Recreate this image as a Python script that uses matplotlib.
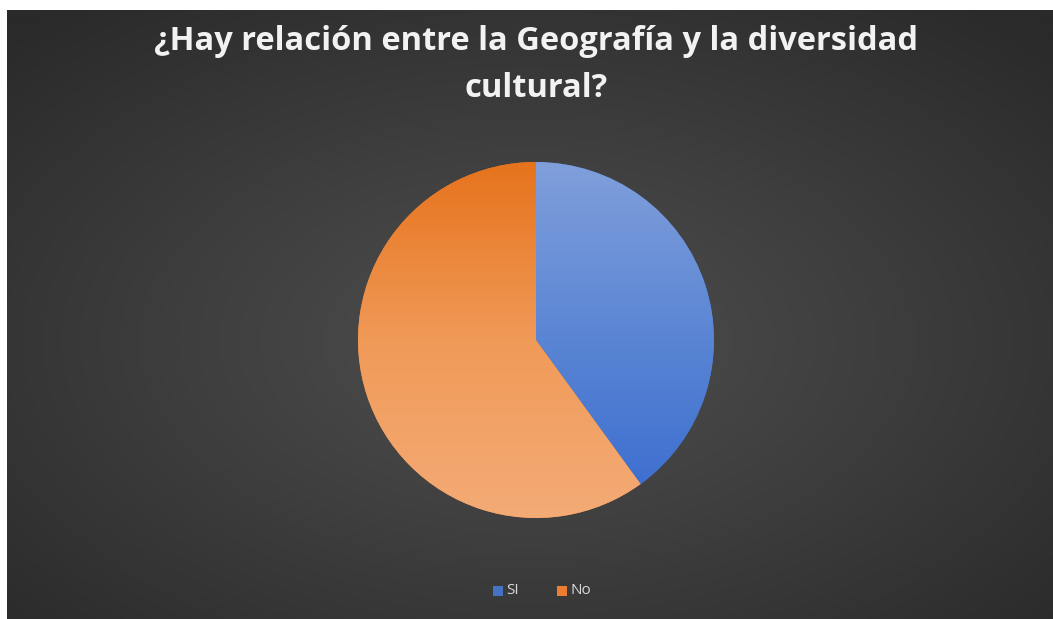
import numpy as np
import matplotlib
matplotlib.use("Agg")
import matplotlib.pyplot as plt
from matplotlib.colors import LinearSegmentedColormap
from matplotlib.patches import Rectangle

categories = ["SI", "No"]
values = [40, 60]
title = "¿Hay relación entre la Geografía y la diversidad\ncultural?"

W, H = 1053, 619
fig = plt.figure(figsize=(W / 100, H / 100), dpi=100)
fig.patch.set_facecolor("#2a2a2a")

# background with radial gradient
bg = fig.add_axes([0, 0, 1, 1])
bg.set_axis_off()
yy, xx = np.mgrid[0:300, 0:520]
cx, cy = 520 * 0.5, 300 * 0.55
r = np.sqrt(((xx - cx) / 520) ** 2 + ((yy - cy) / 300) ** 2) / 0.7
r = np.clip(r, 0, 1)
bg_cmap = LinearSegmentedColormap.from_list("bg", ["#4f4f4f", "#3d3d3d", "#2a2a2a"])
bg.imshow(r, cmap=bg_cmap, aspect="auto", extent=(0, 1, 0, 1), vmin=0, vmax=1)
bg.set_xlim(0, 1)
bg.set_ylim(0, 1)
# white margins on top and left
bg.add_patch(Rectangle((0, 0), 7 / W, 1, facecolor="white", edgecolor="none",
                       transform=bg.transAxes, zorder=5))
bg.add_patch(Rectangle((0, 1 - 10 / H), 1, 10 / H, facecolor="white",
                       edgecolor="none", transform=bg.transAxes, zorder=5))

fig.text(536 / W, 1 - 65 / H, title, ha="center", va="center", color="#f2f2f2",
         fontsize=23.5, fontweight="bold", family="Open Sans", linespacing=1.55)

# pie
R = 178
cxp, cyp = 536, 340
ax = fig.add_axes([(cxp - R) / W, 1 - (cyp + R) / H, 2 * R / W, 2 * R / H])
ax.set_axis_off()
wedges, _ = ax.pie(values, startangle=90, counterclock=False, radius=1,
                   colors=["#4472c4", "#ed7d31"],
                   wedgeprops=dict(linewidth=0))
ax.set_xlim(-1, 1)
ax.set_ylim(-1, 1)
ax.set_aspect("equal")

grads = [
    LinearSegmentedColormap.from_list("b", ["#386bcf", "#5a85d4", "#809fdb"]),
    LinearSegmentedColormap.from_list("o", ["#f4ab76", "#f09a58", "#e6731c"]),
]
g = np.linspace(0, 1, 256).reshape(-1, 1)
for w, cm in zip(wedges, grads):
    im = ax.imshow(g, cmap=cm, extent=(-1, 1, -1, 1), origin="lower",
                   aspect="auto", zorder=2)
    im.set_clip_path(w)

# legend
legend_colors = ["#4472c4", "#ed7d31"]
xs = [493, 557]
for cat, col, x0 in zip(categories, legend_colors, xs):
    fig.patches.append(Rectangle((x0 / W, 1 - 596 / H), 10 / W, 10 / H,
                                 transform=fig.transFigure, facecolor=col,
                                 edgecolor="none"))
    fig.text((x0 + 13) / W, 1 - 590 / H, cat, ha="left", va="center",
             color="#d9d9d9", fontsize=11, family="Open Sans")

fig.savefig("out.png", dpi=100, facecolor=fig.get_facecolor())
